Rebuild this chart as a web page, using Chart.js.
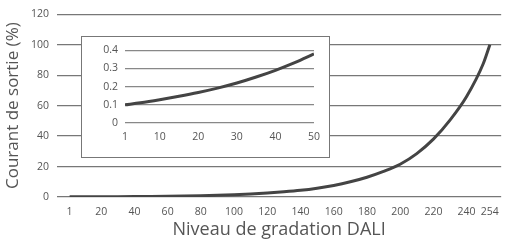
<!DOCTYPE html>
<html><head><meta charset="utf-8">
<script src="https://cdn.jsdelivr.net/npm/chart.js@4"></script>
<style>
html,body{margin:0;padding:0;background:#fff;}
#wrap{position:relative;width:508px;height:243px;}
#main{position:absolute;left:0;top:0;}
#insetBox{position:absolute;left:81px;top:36px;width:247px;height:120px;border:1px solid #777;background:#fff;}
#inset{position:absolute;left:0;top:0;}
</style></head>
<body>
<div id="wrap">
<canvas id="main" width="508" height="243"></canvas>
<div id="insetBox"><canvas id="inset" width="247" height="120"></canvas></div>
</div>
<script>
// Main curve: DALI level -> output current (%)
const mainLevels = [1, 10, 20, 30, 40, 50, 60, 70, 80, 90, 100, 110, 120, 130, 140, 150, 160, 170, 180, 190, 200, 210, 220, 230, 240, 250, 254];
const mainValues = [0.1, 0.13, 0.17, 0.22, 0.29, 0.38, 0.5, 0.66, 0.87, 1.14, 1.5, 1.97, 2.6, 3.4, 4.4, 5.8, 7.6, 10, 13, 16.8, 21.5, 28.5, 38, 50.5, 66, 87.5, 100];
const mainXTicks = [1, 20, 40, 60, 80, 100, 120, 140, 160, 180, 200, 220, 240, 254];
const mainYTicks = [0, 20, 40, 60, 80, 100, 120];

// Inset curve: zoom on levels 1..50
const insetLevels = [1, 5, 10, 15, 20, 25, 30, 35, 40, 45, 50];
const insetValues = [0.1, 0.111, 0.128, 0.147, 0.168, 0.192, 0.22, 0.253, 0.29, 0.332, 0.38];
const insetXTicks = [1, 10, 20, 30, 40, 50];
const insetYTicks = [0, 0.1, 0.2, 0.3, 0.4];

const FONT = "'Open Sans', sans-serif";
const TXT = '#555';

function toPts(xs, ys){ return xs.map((x,i)=>({x:x, y:ys[i]})); }

new Chart(document.getElementById('main'), {
  type: 'line',
  data: { datasets: [{ data: toPts(mainLevels, mainValues), borderColor: '#444', borderWidth: 3, pointRadius: 0, tension: 0.4, cubicInterpolationMode: 'monotone', fill: false }] },
  options: {
    responsive: false, animation: false,
    layout: { padding: { top: 14, right: 5, left: 0, bottom: 0 } },
    plugins: { legend: { display: false }, tooltip: { enabled: false } },
    scales: {
      x: {
        type: 'linear', min: -6.6, max: 260.8,
        afterBuildTicks: s => { s.ticks = mainXTicks.map(v => ({ value: v })); },
        afterFit: s => { s.height = 46; },
        grid: { display: false, drawTicks: false },
        border: { display: false },
        ticks: { color: TXT, font: { family: FONT, size: 10.5 }, padding: 9, maxRotation: 0, autoSkip: false, callback: v => String(v) },
        title: { display: true, text: 'Niveau de gradation DALI', color: TXT, font: { family: FONT, size: 18 }, padding: { top: 0, bottom: 2 } }
      },
      y: {
        min: 0, max: 120,
        afterBuildTicks: s => { s.ticks = mainYTicks.map(v => ({ value: v })); },
        afterFit: s => { s.width = 57; },
        grid: { color: '#777', lineWidth: 1.3, drawTicks: false },
        border: { display: false },
        ticks: { color: TXT, font: { family: FONT, size: 10.5 }, padding: 8 },
        title: { display: true, text: 'Courant de sortie (%)', color: TXT, font: { family: FONT, size: 17 }, padding: { top: 3, bottom: 0 } }
      }
    }
  }
});

new Chart(document.getElementById('inset'), {
  type: 'line',
  data: { datasets: [{ data: toPts(insetLevels, insetValues), borderColor: '#444', borderWidth: 3, pointRadius: 0, tension: 0.4, cubicInterpolationMode: 'monotone', fill: false }] },
  options: {
    responsive: false, animation: false,
    layout: { padding: { top: 6, right: 15, left: 0, bottom: 0 } },
    plugins: { legend: { display: false }, tooltip: { enabled: false } },
    scales: {
      x: {
        type: 'linear', min: 1, max: 50,
        afterBuildTicks: s => { s.ticks = insetXTicks.map(v => ({ value: v })); },
        afterFit: s => { s.height = 34; },
        grid: { display: false, drawTicks: false },
        border: { display: false },
        ticks: { color: TXT, font: { family: FONT, size: 10.5 }, padding: 8, maxRotation: 0, autoSkip: false }
      },
      y: {
        min: 0, max: 0.4,
        afterBuildTicks: s => { s.ticks = insetYTicks.map(v => ({ value: v })); },
        afterFit: s => { s.width = 43; },
        grid: { color: '#888', lineWidth: 1.2, drawTicks: false },
        border: { display: false },
        ticks: { color: TXT, font: { family: FONT, size: 10.5 }, padding: 7, callback: v => String(v) }
      }
    }
  }
});
</script>
</body></html>
